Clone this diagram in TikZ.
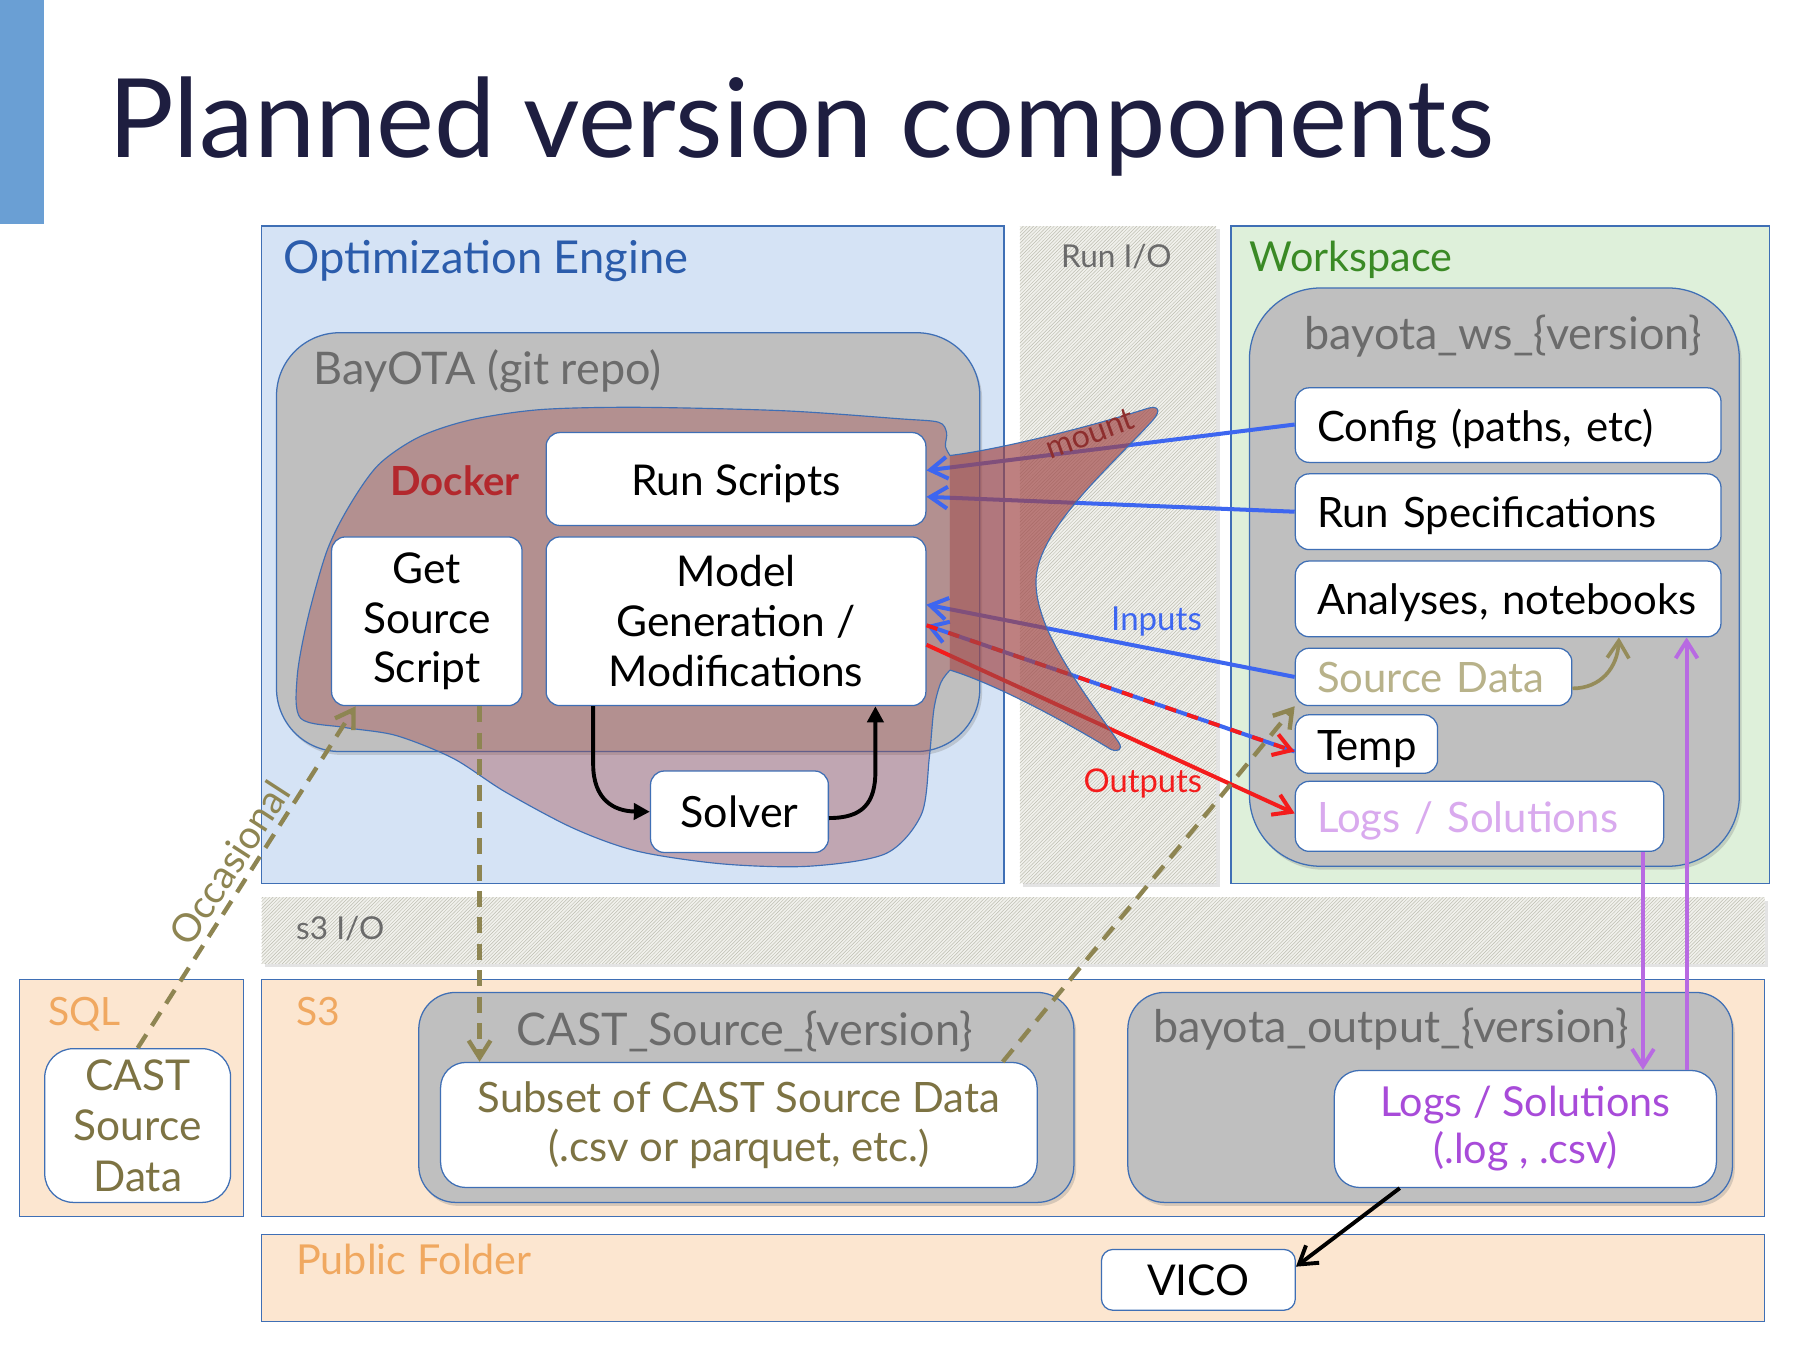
\documentclass[tikz,border=0pt]{standalone}
\usepackage{fontspec}
\setmainfont{Lato}
\usetikzlibrary{arrows.meta,patterns,shadows}
\newcommand\fs[2]{\fontsize{#1}{#2}\selectfont}
\definecolor{bordblue}{HTML}{3F6FB5}
\definecolor{engfill}{HTML}{D5E3F5}
\definecolor{englab}{HTML}{2B5CAB}
\definecolor{wsfill}{HTML}{DEF0DA}
\definecolor{wslab}{HTML}{3A8A25}
\definecolor{peach}{HTML}{FCE6D0}
\definecolor{orangelab}{HTML}{F0A860}
\definecolor{boxgray}{HTML}{BFBFBF}
\definecolor{labgray}{HTML}{6B6B6B}
\definecolor{titlecol}{HTML}{1E1E40}
\definecolor{barblue}{HTML}{6A9FD4}
\definecolor{arrblue}{HTML}{3D66F0}
\definecolor{arrred}{HTML}{F41C1C}
\definecolor{olive}{HTML}{8E8552}
\definecolor{olivetext}{HTML}{7D7343}
\definecolor{tantext}{HTML}{B8B28A}
\definecolor{tanarr}{HTML}{958C5A}
\definecolor{lilac}{HTML}{D9AAEE}
\definecolor{purptext}{HTML}{A84BD9}
\definecolor{purparr}{HTML}{B86AE2}
\definecolor{dockred}{HTML}{A04545}
\definecolor{dockerlab}{HTML}{B3282D}
\definecolor{mountcol}{HTML}{8E2E2E}
\definecolor{hatchbg}{HTML}{F1F1EC}
\definecolor{hatchln}{HTML}{BDBDB0}
\begin{document}
\begin{tikzpicture}[x=1pt,y=-1pt,
  bbarb/.tip={Straight Barb[length=15pt,width=19pt]},
  region/.style={draw=bordblue, line width=1.1pt, inner sep=0pt},
  gbox/.style={draw=bordblue, fill=boxgray, line width=1.1pt, inner sep=0pt,
     drop shadow={shadow xshift=2pt, shadow yshift=-3pt, opacity=0.3}},
  wbox/.style={draw=bordblue, fill=white, line width=1.1pt, rounded corners=12pt,
     inner sep=0pt, align=center, font=\fs{37}{43.5}},
  one/.style={text height=28pt, text depth=0pt},
  lbox/.style={wbox, align=left, text width=#1, font=\fs{36.5}{43}},
  lab/.style={anchor=base west, inner sep=0pt},
  hdr/.style={lab, font=\fs{36}{44}},
  grlab/.style={lab, font=\fs{39.2}{46}, text=labgray},
  orlab/.style={lab, font=\fs{34}{40}, text=orangelab},
  smlab/.style={inner sep=0pt, font=\fs{27.5}{32}},
  barr/.style={draw=arrblue, line width=3.5pt},
  rarr/.style={draw=arrred, line width=3.5pt},
  parr/.style={draw=purparr, line width=3.4pt},
  karr/.style={draw=black, line width=3.4pt},
  odash/.style={draw=olive, line width=3.8pt, dash pattern=on 14pt off 9pt},
  tarr/.style={draw=tanarr, line width=3.2pt},
  stripe/.style={fill=hatchbg, drop shadow={shadow xshift=3pt, shadow yshift=-3pt, opacity=0.22}},
  hatch/.style={pattern=north east lines, pattern color=hatchln}
]
\useasboundingbox (0,0) rectangle (1568,1176);
\fill[white] (0,0) rectangle (1568,1176);

% side bar and title
\fill[barblue] (0,0) rectangle (38,195);
\node[lab, font=\fs{95.5}{115}, text=titlecol] (title) at (94,137) {Planned version components};

% regions
\node[region, fill=engfill, minimum width=647pt, minimum height=573pt] (engine) at (551.5,483.5) {};
\node[lab, font=\fs{39.5}{46}, text=englab] (englabel) at (247,238) {Optimization Engine};

\path[stripe] (889,197) rectangle (1060,770);
\path[hatch] (889,197) rectangle (1060,770);
\node[smlab, anchor=base, text=labgray] (runio) at (973,233) {Run I/O};

\node[region, fill=wsfill, minimum width=469pt, minimum height=573pt] (workspace) at (1307.5,483.5) {};
\node[hdr, text=wslab] (wslabel) at (1089,237) {Workspace};

\path[stripe] (228,782) rectangle (1538,840);
\path[hatch] (228,782) rectangle (1538,840);
\node[smlab, lab, text=labgray] (s3io) at (258,819) {s3 I/O};

\node[region, fill=peach, minimum width=195pt, minimum height=206pt] (sql) at (114.5,957) {};
\node[orlab] (sqllabel) at (42,894) {SQL};
\node[region, fill=peach, minimum width=1310pt, minimum height=206pt] (s3) at (883,957) {};
\node[orlab] (s3label) at (258,894) {S3};
\node[region, fill=peach, minimum width=1310pt, minimum height=76pt] (public) at (883,1114) {};
\node[orlab, font=\fs{36}{42}] (publabel) at (258,1111) {Public Folder};

% BayOTA repo
\node[gbox, rounded corners=55pt, minimum width=613pt, minimum height=365pt] (bayota) at (547.5,472.5) {};
\node[grlab] (bayotalabel) at (273,335) {BayOTA (git repo)};

% Docker body
\fill[dockred, opacity=0.38] plot[smooth] coordinates {(828,584) (820,595) (814,618) (810,660) (803,710) (772,744) (705,755) (630,753) (556,742) (500,722) (440,690) (395,661) (345,641) (300,634) (262,626) (259,590) (268,540) (285,480) (305,440) (330,405) (365,381) (410,366) (471,357) (556,355) (683,358) (784,365) (818,368) (825,377) (824,389) (828,397)} -- cycle;
\draw[bordblue, line width=1pt] plot[smooth] coordinates {(828,584) (820,595) (814,618) (810,660) (803,710) (772,744) (705,755) (630,753) (556,742) (500,722) (440,690) (395,661) (345,641) (300,634) (262,626) (259,590) (268,540) (285,480) (305,440) (330,405) (365,381) (410,366) (471,357) (556,355) (683,358) (784,365) (818,368) (825,377) (824,389) (828,397)};
\node[lab, font=\bfseries\fs{35}{40}, text=dockerlab] (docker) at (340,432) {Docker};

% boxes in docker
\node[wbox, one, minimum width=331pt, minimum height=81pt] (runscripts) at (641.5,417.5) {Run Scripts};
\node[wbox, minimum width=166pt, minimum height=147pt] (getsrc) at (372,541.5) {Get\\Source\\Script};
\node[wbox, minimum width=331pt, minimum height=147pt] (model) at (641.5,541.5) {Model\\Generation /\\Modifications};
\node[wbox, one, minimum width=155pt, minimum height=71pt, font=\fs{37.5}{44}] (solver) at (644.5,707.5) {Solver};
\draw[karr, -{Triangle[length=14pt,width=14pt]}] (model.south -| 517,0) -- (517,666) .. controls (517,697) and (535,707) .. (solver.west);
\draw[karr, -{Triangle[length=14pt,width=14pt]}] (solver.east |- 0,713) .. controls (752,713) and (763,700) .. (763,672) -- (model.south -| 763,0);

% workspace contents
\node[gbox, rounded corners=62pt, minimum width=427pt, minimum height=504pt] (ws) at (1302.5,503) {};
\node[grlab] (wsname) at (1137,305) {bayota\_ws\_\{version\}};
\node[lbox=333pt, one, minimum width=371pt, minimum height=65pt] (config) at (1314.5,370.5) {Config (paths, etc)};
\node[lbox=333pt, one, minimum width=371pt, minimum height=66pt] (runspec) at (1314.5,446) {Run Specifications};
\node[lbox=333pt, one, minimum width=371pt, minimum height=66pt] (analyses) at (1314.5,522) {Analyses, notebooks};
\node[lbox=203pt, one, minimum width=241pt, minimum height=50pt, text=tantext] (srcdata) at (1249.5,590) {Source Data};
\node[lbox=86pt, one, minimum width=124pt, minimum height=51pt] (temp) at (1191,648.5) {Temp};
\node[lbox=283pt, one, minimum width=321pt, minimum height=61pt, text=lilac] (logsws) at (1289.5,711.5) {Logs / Solutions};
\draw[tarr, -{bbarb}] (srcdata.east |- 0,600) .. controls (1395,600) and (1410,582) .. (analyses.south -| 1411,0);

% storage contents
\node[wbox, rounded corners=25pt, minimum width=162pt, minimum height=134pt, font=\fs{37}{44}, text=olivetext] (castsql) at (120,981) {CAST\\Source\\Data};
\node[gbox, rounded corners=32pt, minimum width=571pt, minimum height=183pt] (castsrc) at (650.5,956.5) {};
\node[grlab] (castsrclabel) at (450,911) {CAST\_Source\_\{version\}};
\node[wbox, rounded corners=22pt, minimum width=520pt, minimum height=109pt, text=olivetext, font=\fs{36.5}{43}] (subset) at (644,980.5) {Subset of CAST Source Data\\(.csv or parquet, etc.)};
\node[gbox, rounded corners=32pt, minimum width=527pt, minimum height=183pt] (bayout) at (1246.5,956.5) {};
\node[grlab] (bayoutlabel) at (1005,909) {bayota\_output\_\{version\}};
\node[wbox, rounded corners=22pt, minimum width=333pt, minimum height=102pt, text=purptext, font=\fs{36}{41}] (logsout) at (1329.5,984) {Logs / Solutions\\(.log , .csv)};
\node[wbox, one, rounded corners=10pt, minimum width=169pt, minimum height=53pt, font=\fs{37}{44}] (vico) at (1044.5,1115.5) {VICO};

% run inputs and outputs
\draw[barr, -{bbarb}] (config.west |- 0,370) -- (runscripts.east |- 0,410);
\draw[barr, -{bbarb}] (runspec.west |- 0,446) -- (runscripts.east |- 0,433);
\draw[barr, -{bbarb}] (srcdata.west |- 0,590) -- (model.east |- 0,527);
\draw[barr, {bbarb}-] (model.east |- 0,545) -- (temp.west |- 0,655);
\draw[rarr, dash pattern=on 10pt off 10pt, -{bbarb}] (model.east |- 0,545) -- (temp.west |- 0,655);
\draw[rarr, -{bbarb}] (model.east |- 0,562) -- (logsws.west |- 0,709);
\node[smlab, font=\fs{28.8}{33}, text=arrblue] (inputs) at (1008,542) {Inputs};
\node[smlab, font=\fs{28.5}{33}, text=arrred] (outputs) at (996,683) {Outputs};

% mount horn
\fill[dockred, opacity=0.68] (828,397) .. controls (870,392) and (950,372) .. (1000,356) .. controls (1010,353) and (1012,358) .. (1005,366) .. controls (970,405) and (905,460) .. (903,505) .. controls (901,550) and (950,610) .. (975,647) .. controls (979,653) and (975,656) .. (968,653) .. controls (930,630) and (870,597) .. (828,584) -- cycle;
\draw[bordblue, line width=1pt] (828,397) .. controls (870,392) and (950,372) .. (1000,356) .. controls (1010,353) and (1012,358) .. (1005,366) .. controls (970,405) and (905,460) .. (903,505) .. controls (901,550) and (950,610) .. (975,647) .. controls (979,653) and (975,656) .. (968,653) .. controls (930,630) and (870,597) .. (828,584);
\node[smlab, font=\fs{28}{32}, text=mountcol, rotate=20] (mount) at (950,378) {mount};

% data flows
\draw[odash, -{bbarb}] (castsql.north) -- (getsrc.south -| 310,0);
\node[inner sep=0pt, font=\fs{34}{40}, text=olive, rotate=57] (occ) at (200,752) {Occasional};
\draw[odash, -{bbarb}] (getsrc.south -| 418,0) -- (subset.north -| 418,0);
\draw[odash, -{bbarb}] (subset.north -| 874,0) -- (srcdata.south west);
\draw[parr, -{bbarb}] (logsws.south -| 1432,0) -- (logsout.north -| 1432,0);
\draw[parr, -{bbarb}] (logsout.north -| 1470,0) -- (analyses.south -| 1470,0);
\draw[karr, -{bbarb}] (logsout.south -| 1220,0) -- (vico.east |- 0,1104);
\end{tikzpicture}
\end{document}
